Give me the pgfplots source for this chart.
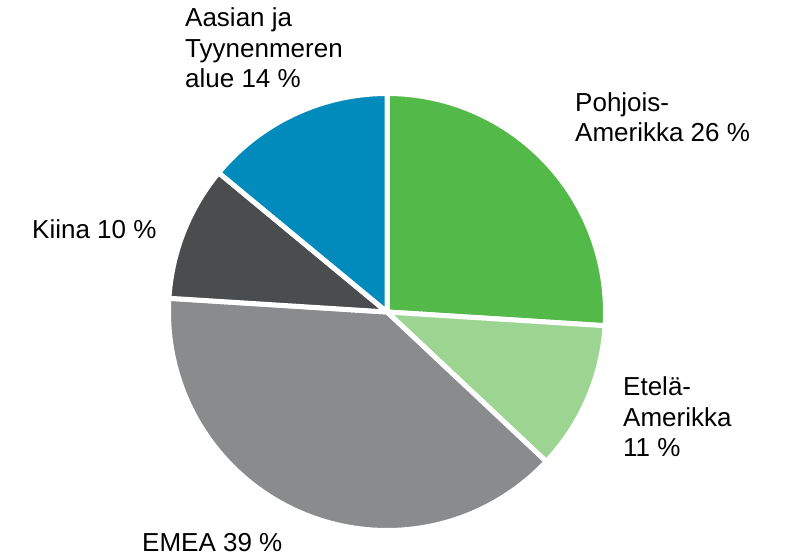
\documentclass[border=0pt]{standalone}
\usepackage{pgfplots}
\pgfplotsset{compat=1.18}
\usepackage{fontspec}
\setmainfont{Liberation Sans}
\definecolor{cNA}{RGB}{83,185,72}
\definecolor{cSA}{RGB}{155,213,145}
\definecolor{cEMEA}{RGB}{138,139,141}
\definecolor{cCN}{RGB}{75,76,78}
\definecolor{cAP}{RGB}{0,139,188}
% shares in percent
\def\vNA{26}\def\vSA{11}\def\vEMEA{39}\def\vCN{10}\def\vAP{14}
\pgfmathsetmacro{\aA}{90}
\pgfmathsetmacro{\aB}{\aA-3.6*\vNA}
\pgfmathsetmacro{\aC}{\aB-3.6*\vSA}
\pgfmathsetmacro{\aD}{\aC-3.6*\vEMEA}
\pgfmathsetmacro{\aE}{\aD-3.6*\vCN}
\pgfmathsetmacro{\aF}{\aE-3.6*\vAP}
\def\cx{387}\def\cy{245}\def\rr{218.5}
\begin{document}
\begin{tikzpicture}
\begin{axis}[scale only axis, width=785pt, height=557pt,
  xmin=0, xmax=785, ymin=0, ymax=557, hide axis, clip=false]
\addplot[fill=cNA, draw=white, line width=5pt, line join=round, domain=\aB:\aA, samples=90, variable=\t]
  ({\cx+\rr*cos(\t)},{\cy+\rr*sin(\t)}) -- (axis cs:\cx,\cy) -- cycle;
\addplot[fill=cSA, draw=white, line width=5pt, line join=round, domain=\aC:\aB, samples=60, variable=\t]
  ({\cx+\rr*cos(\t)},{\cy+\rr*sin(\t)}) -- (axis cs:\cx,\cy) -- cycle;
\addplot[fill=cEMEA, draw=white, line width=5pt, line join=round, domain=\aD:\aC, samples=120, variable=\t]
  ({\cx+\rr*cos(\t)},{\cy+\rr*sin(\t)}) -- (axis cs:\cx,\cy) -- cycle;
\addplot[fill=cCN, draw=white, line width=5pt, line join=round, domain=\aE:\aD, samples=50, variable=\t]
  ({\cx+\rr*cos(\t)},{\cy+\rr*sin(\t)}) -- (axis cs:\cx,\cy) -- cycle;
\addplot[fill=cAP, draw=white, line width=5pt, line join=round, domain=\aF:\aE, samples=60, variable=\t]
  ({\cx+\rr*cos(\t)},{\cy+\rr*sin(\t)}) -- (axis cs:\cx,\cy) -- cycle;
\tikzset{lab/.style={anchor=base west, inner sep=0pt, font=\fontsize{26}{30}\selectfont}}
\node[lab] at (axis cs:185,{557-27}) {Aasian ja};
\node[lab] at (axis cs:185,{557-58}) {Tyynenmeren};
\node[lab] at (axis cs:185,{557-88}) {alue 14 \%};
\node[lab] at (axis cs:575,{557-112}) {Pohjois-};
\node[lab] at (axis cs:575,{557-142}) {Amerikka 26 \%};
\node[lab] at (axis cs:32,{557-239}) {Kiina 10 \%};
\node[lab] at (axis cs:623,{557-396}) {Etelä-};
\node[lab] at (axis cs:623,{557-427}) {Amerikka};
\node[lab] at (axis cs:623,{557-457}) {11 \%};
\node[lab] at (axis cs:142,{557-552}) {EMEA 39 \%};
\end{axis}
\pgfresetboundingbox
\path (0,0) rectangle (785pt,557pt);
\end{tikzpicture}
\end{document}
